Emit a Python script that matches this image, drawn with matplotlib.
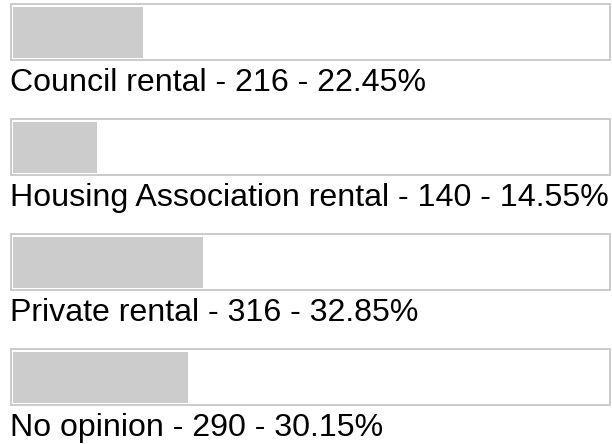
import matplotlib
matplotlib.use("Agg")
import matplotlib.pyplot as plt

# poll results
categories = ["Council rental", "Housing Association rental", "Private rental", "No opinion"]
counts = [216, 140, 316, 290]
percents = [22.45, 14.55, 32.85, 30.15]

W, H = 612, 444
DPI = 100
fig = plt.figure(figsize=(W / DPI, H / DPI), dpi=DPI)

border = "#cccccc"
bar_color = "#cccccc"
px_per_pct = 5.79   # bar length in pixels for 1 percent
row_step = 115      # vertical distance between rows (px)

for i, (cat, n, pct) in enumerate(zip(categories, counts, percents)):
    top = 4 + i * row_step          # spine centre of box top (px from top)
    bottom = top + 56
    left, right = 11, 610
    ax = fig.add_axes([left / W, 1 - bottom / H, (right - left) / W, (bottom - top) / H])
    ax.set_xlim(-2 / px_per_pct, (right - left - 2) / px_per_pct)
    ax.set_ylim(0, 56)
    ax.barh(56 - 3 - 51.3 / 2, pct, height=51.3, left=0, color=bar_color, linewidth=0)
    for s in ax.spines.values():
        s.set_color(border)
        s.set_linewidth(2 * 72 / DPI)
    ax.set_xticks([])
    ax.set_yticks([])

    fig.text(10 / W, 1 - (top + 87) / H, f"{cat} - {n} - {pct:.2f}%",
             fontsize=23.1, family="Liberation Sans", color="black", va="baseline")

fig.savefig("out.png", dpi=DPI)
